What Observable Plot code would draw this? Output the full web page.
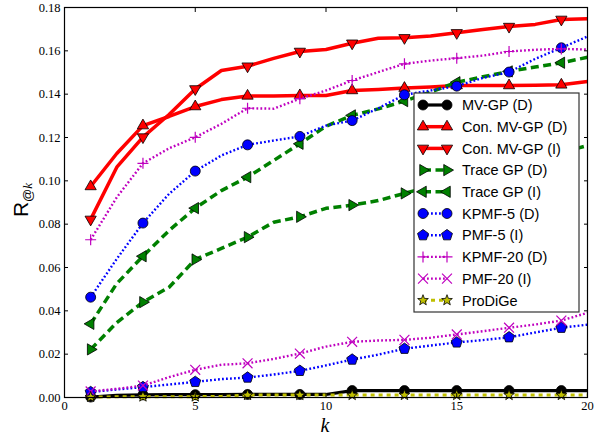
<!DOCTYPE html>
<html><head><meta charset="utf-8">
<script src="https://cdn.jsdelivr.net/npm/d3@7"></script>
<script src="https://cdn.jsdelivr.net/npm/@observablehq/plot@0.6"></script>
<style>body{margin:0;background:#fff;}</style>
</head><body><div id="chart"></div>
<script>
// ---- data ----
const ks = [1,2,3,4,5,6,7,8,9,10,11,12,13,14,15,16,17,18,19,20];
const xTicks = [0,5,10,15,20];
const yTicks = [0,0.02,0.04,0.06,0.08,0.10,0.12,0.14,0.16,0.18];
const names = ["MV-GP (D)","Con. MV-GP (D)","Con. MV-GP (I)","Trace GP (D)","Trace GP (I)","KPMF-5 (D)","PMF-5 (I)","KPMF-20 (D)","PMF-20 (I)","ProDiGe"];
const mvgpD   = [0.0002,0.0010,0.0012,0.0013,0.0013,0.0013,0.0014,0.0014,0.0014,0.0014,0.0032,0.0032,0.0032,0.0032,0.0032,0.0032,0.0032,0.0032,0.0032,0.0032];
const conMvgpD= [0.0974,0.1126,0.1255,0.1297,0.1343,0.1375,0.1392,0.1392,0.1394,0.1394,0.1417,0.1422,0.1428,0.1433,0.1440,0.1440,0.1440,0.1441,0.1443,0.1458];
const conMvgpI= [0.0822,0.1063,0.1202,0.1306,0.1424,0.1509,0.1529,0.1565,0.1597,0.1606,0.1635,0.1658,0.1660,0.1668,0.1683,0.1698,0.1712,0.1722,0.1745,0.1748];
const traceD  = [0.0222,0.0346,0.0440,0.0509,0.0637,0.0688,0.0740,0.0809,0.0834,0.0873,0.0888,0.0909,0.0942,0.0975,0.1005,0.1040,0.1070,0.1100,0.1130,0.1163];
const traceI  = [0.0340,0.0526,0.0652,0.0771,0.0874,0.0955,0.1017,0.1094,0.1171,0.1252,0.1302,0.1332,0.1368,0.1410,0.1455,0.1480,0.1505,0.1525,0.1545,0.1570];
const kpmf5D  = [0.0463,0.0640,0.0805,0.0940,0.1045,0.1117,0.1166,0.1186,0.1205,0.1255,0.1278,0.1335,0.1397,0.1417,0.1437,0.1475,0.1502,0.1563,0.1614,0.1666];
const pmf5I   = [0.0025,0.0037,0.0048,0.0060,0.0072,0.0085,0.0092,0.0106,0.0123,0.0148,0.0175,0.0198,0.0225,0.0240,0.0254,0.0265,0.0278,0.0300,0.0322,0.0336];
const kpmf20D = [0.0728,0.0924,0.1081,0.1150,0.1201,0.1263,0.1335,0.1333,0.1379,0.1417,0.1463,0.1502,0.1540,0.1555,0.1566,0.1578,0.1597,0.1605,0.1609,0.1606];
const pmf20I  = [0.0028,0.0040,0.0055,0.0094,0.0128,0.0151,0.0158,0.0178,0.0203,0.0235,0.0257,0.0263,0.0266,0.0276,0.0291,0.0306,0.0322,0.0337,0.0355,0.0391];
const prodige = [0.0002,0.0003,0.0004,0.0004,0.0004,0.0005,0.0011,0.0011,0.0011,0.0011,0.0011,0.0011,0.0011,0.0011,0.0011,0.0011,0.0011,0.0011,0.0011,0.0011];

// ---- symbols ----
const deg = Math.PI/180;
function poly(angles, scale){ return {draw(ctx,size){const r=Math.sqrt(size/Math.PI)*scale; angles.forEach((a,i)=>{const x=r*Math.cos(a*deg),y=r*Math.sin(a*deg); i?ctx.lineTo(x,y):ctx.moveTo(x,y);}); ctx.closePath();}}; }
const triUp = poly([-90,30,150],1.3), triDown = poly([90,210,330],1.3), triRight = poly([0,120,240],1.3), triLeft = poly([180,300,60],1.3);
const pentagon = poly([-90,-18,54,126,198],1.15);
const starSym = {draw(ctx,size){const r=Math.sqrt(size/Math.PI)*1.25; for(let i=0;i<10;i++){const rr=i%2?r*0.42:r; const a=(-90+36*i)*deg; const x=rr*Math.cos(a),y=rr*Math.sin(a); i?ctx.lineTo(x,y):ctx.moveTo(x,y);} ctx.closePath();}};
const plusSym = {draw(ctx,size){const r=Math.sqrt(size/Math.PI)*1.1; ctx.moveTo(-r,0);ctx.lineTo(r,0);ctx.moveTo(0,-r);ctx.lineTo(0,r);}};
const timesSym = {draw(ctx,size){const r=Math.sqrt(size/Math.PI)*0.9; ctx.moveTo(-r,-r);ctx.lineTo(r,r);ctx.moveTo(-r,r);ctx.lineTo(r,-r);}};

const values = [mvgpD,conMvgpD,conMvgpI,traceD,traceI,kpmf5D,pmf5I,kpmf20D,pmf20I,prodige];
const styles = [
  {color:"#000000", w:3.2, dash:null,    sym:d3.symbolCircle, fill:"#000000", open:false, r:5},
  {color:"#ff0000", w:3.5, dash:null,    sym:triUp,    fill:"#ff0000", open:false, r:5},
  {color:"#ff0000", w:3.5, dash:null,    sym:triDown,  fill:"#ff0000", open:false, r:5},
  {color:"#008000", w:3.5, dash:"8,4.5", sym:triRight, fill:"#008000", open:false, r:5},
  {color:"#008000", w:3.5, dash:"8,4.5", sym:triLeft,  fill:"#008000", open:false, r:5},
  {color:"#0000ff", w:2.4, dash:"1.8,2.2", sym:d3.symbolCircle, fill:"#0000ff", open:false, r:5},
  {color:"#0000ff", w:2.4, dash:"1.8,2.2", sym:pentagon, fill:"#0000ff", open:false, r:5},
  {color:"#bf00bf", w:2.4, dash:"1.8,2.2", sym:plusSym,  fill:"none", open:true, r:5},
  {color:"#bf00bf", w:2.4, dash:"1.8,2.2", sym:timesSym, fill:"none", open:true, r:5.5},
  {color:"#bfbf00", w:3,   dash:"4,4",   sym:starSym,  fill:"#bfbf00", open:false, r:4.5}
];

const marks = [];
values.forEach((arr,si)=>{
  const st = styles[si];
  const rows = ks.map((k,i)=>({k, v:arr[i]}));
  marks.push(Plot.line(rows,{x:"k",y:"v",stroke:st.color,strokeWidth:st.w,strokeDasharray:st.dash,strokeLinejoin:"round",strokeLinecap:"butt"}));
  const pts = rows.filter((d,i)=>i%2===0);
  marks.push(Plot.dot(pts,{x:"k",y:"v",symbol:()=>st.sym,r:st.r,fill:st.open?"none":st.fill,stroke:st.open?st.color:"#000",strokeWidth:st.open?1.2:0.8}));
});

const svg = Plot.plot({
  width:597, height:436,
  marginLeft:64, marginRight:10, marginTop:7, marginBottom:39,
  style:{fontFamily:"'Liberation Serif', serif", fontSize:"12.5px", background:"#fff", color:"#000"},
  x:{domain:[0,20]},
  y:{domain:[0,0.18]},
  marks:[
    ...marks,
    Plot.frame({stroke:"#000", strokeWidth:1.2}),
    Plot.axisX({ticks:xTicks, tickSize:0, tickPadding:4, tickFormat:d=>String(d), label:null}),
    Plot.axisY({ticks:yTicks, tickSize:0, tickPadding:4, tickFormat:d3.format(".2f"), label:null}),
    Plot.axisX({ticks:xTicks, fill:"none", tickSize:-4, stroke:"#000"}),
    Plot.axisX({anchor:"top", ticks:xTicks, fill:"none", tickSize:-4, stroke:"#000"}),
    Plot.axisY({ticks:yTicks, fill:"none", tickSize:-4, stroke:"#000"}),
    Plot.axisY({anchor:"right", ticks:yTicks, fill:"none", tickSize:-4, stroke:"#000"})
  ]
});
document.getElementById("chart").appendChild(svg);

const S = d3.select(svg);
// axis labels
const yl = S.append("text").attr("transform","translate(28,200) rotate(-90)").attr("text-anchor","middle")
  .attr("fill","#000").style("font-family","'Liberation Sans', sans-serif").style("font-size","21px");
yl.append("tspan").text("R");
yl.append("tspan").attr("dy",4).style("font-size","13px").text("@");
yl.append("tspan").style("font-size","13px").style("font-style","italic").style("font-family","'Liberation Serif', serif").text("k");
S.append("text").attr("x",325).attr("y",432).attr("text-anchor","middle").attr("fill","#000")
  .style("font-family","'Liberation Serif', serif").style("font-style","italic").style("font-size","20px").text("k");

// legend
const lg = S.append("g");
const lx=414, ly=93, lw=165, lh=219;
lg.append("rect").attr("x",lx).attr("y",ly).attr("width",lw).attr("height",lh).attr("fill","#fff").attr("stroke","#333").attr("stroke-width",1.2);
names.forEach((nm,i)=>{
  const st = styles[i]; const cy = ly + 12 + i*21.7;
  lg.append("line").attr("x1",423).attr("x2",447).attr("y1",cy).attr("y2",cy)
    .attr("stroke",st.color).attr("stroke-width",st.w).attr("stroke-dasharray",st.dash);
  [423,447].forEach(cx=>{
    lg.append("path").attr("d",d3.symbol(st.sym, st.r*st.r*Math.PI)()).attr("transform",`translate(${cx},${cy})`)
      .attr("fill",st.open?"none":st.fill).attr("stroke",st.open?st.color:"#000").attr("stroke-width",st.open?1.2:0.8);
  });
  lg.append("text").attr("x",462).attr("y",cy).attr("dy","0.36em").attr("text-anchor","start").attr("fill","#000")
    .style("font-family","'Liberation Sans', sans-serif").style("font-size","14.5px").text(nm);
});
</script>
</body></html>
